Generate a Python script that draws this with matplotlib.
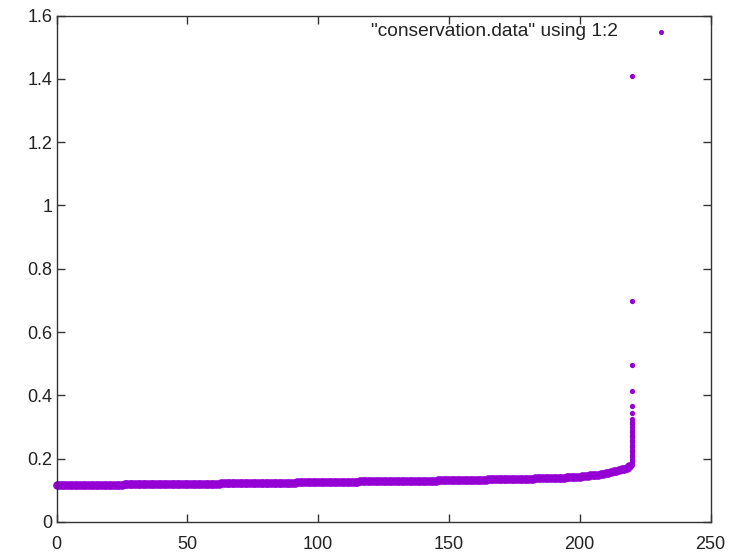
import matplotlib.pyplot as plt
plt.switch_backend('agg')

plt.rcParams['font.family'] = ['Liberation Sans', 'DejaVu Sans']

# sorted conservation scores, one per column-1 index
score_x = list(range(0, 220))
score_y = [
	0.117, 0.117, 0.117, 0.117, 0.117, 0.117, 0.117, 0.117, 0.117, 0.117,
	0.117, 0.117, 0.117, 0.118, 0.118, 0.118, 0.118, 0.118, 0.118, 0.118,
	0.118, 0.118, 0.118, 0.118, 0.118, 0.118, 0.119, 0.119, 0.119, 0.119,
	0.119, 0.119, 0.119, 0.119, 0.119, 0.119, 0.119, 0.119, 0.119, 0.119,
	0.119, 0.119, 0.119, 0.120, 0.120, 0.120, 0.120, 0.120, 0.120, 0.120,
	0.120, 0.120, 0.120, 0.120, 0.121, 0.121, 0.121, 0.121, 0.121, 0.121,
	0.121, 0.121, 0.121, 0.122, 0.122, 0.122, 0.122, 0.122, 0.122, 0.122,
	0.122, 0.122, 0.122, 0.123, 0.123, 0.123, 0.123, 0.123, 0.123, 0.123,
	0.123, 0.123, 0.124, 0.124, 0.124, 0.124, 0.124, 0.124, 0.124, 0.124,
	0.124, 0.124, 0.125, 0.125, 0.125, 0.125, 0.125, 0.125, 0.125, 0.125,
	0.125, 0.125, 0.126, 0.126, 0.126, 0.126, 0.126, 0.126, 0.126, 0.127,
	0.127, 0.127, 0.127, 0.127, 0.127, 0.127, 0.128, 0.128, 0.128, 0.128,
	0.128, 0.128, 0.128, 0.128, 0.129, 0.129, 0.129, 0.129, 0.129, 0.129,
	0.129, 0.129, 0.130, 0.130, 0.130, 0.130, 0.130, 0.130, 0.130, 0.131,
	0.131, 0.131, 0.131, 0.131, 0.131, 0.131, 0.132, 0.132, 0.132, 0.132,
	0.132, 0.132, 0.132, 0.133, 0.133, 0.133, 0.133, 0.133, 0.133, 0.134,
	0.134, 0.134, 0.134, 0.134, 0.134, 0.135, 0.135, 0.135, 0.135, 0.135,
	0.135, 0.135, 0.136, 0.136, 0.136, 0.136, 0.136, 0.137, 0.137, 0.137,
	0.137, 0.137, 0.137, 0.138, 0.138, 0.138, 0.138, 0.139, 0.139, 0.139,
	0.139, 0.139, 0.140, 0.140, 0.140, 0.141, 0.141, 0.141, 0.142, 0.142,
	0.143, 0.144, 0.145, 0.146, 0.147, 0.148, 0.149, 0.150, 0.151, 0.152,
	0.154, 0.156, 0.158, 0.160, 0.162, 0.164, 0.166, 0.169, 0.172, 0.178,
]

# the last index carries the high-scoring tail
tail_x = 220
tail_y = [
	0.180, 0.188, 0.196, 0.204, 0.212, 0.220, 0.228, 0.236, 0.244, 0.252,
	0.260, 0.268, 0.276, 0.284, 0.292, 0.300, 0.308, 0.316, 0.324, 0.344,
	0.368, 0.415, 0.497, 0.697, 1.408,
]

x_ticks = [0, 50, 100, 150, 200, 250]
y_ticks = [0, 0.2, 0.4, 0.6, 0.8, 1.0, 1.2, 1.4, 1.6]
y_labels = ['0', '0.2', '0.4', '0.6', '0.8', '1', '1.2', '1.4', '1.6']

color = '#9400d3'

fig = plt.figure(figsize=(7.3, 5.56), dpi=100)
ax = fig.add_axes([56.5 / 730, 34 / 556, 654 / 730, 506.5 / 556])

# dense bulk of the scores drawn as one thick run of overlapping dots
ax.plot(score_x, score_y, linestyle='none', marker='o', markersize=6.2,
	markeredgewidth=0, color=color, clip_on=False)
ax.plot([tail_x] * len(tail_y), tail_y, linestyle='none', marker='o',
	markersize=3.8, markeredgewidth=0, color=color, clip_on=False)

ax.set_xlim(0, 250)
ax.set_ylim(0, 1.6)
ax.set_xticks(x_ticks)
ax.set_yticks(y_ticks)
ax.set_yticklabels(y_labels)
ax.tick_params(direction='in', length=6, width=1, top=True, right=True,
	labelsize=13, labelcolor='#222222', color='#333333')
ax.tick_params(axis='x', pad=10)
ax.tick_params(axis='y', pad=3)
for s in ax.spines.values():
	s.set_linewidth(1)
	s.set_color('#333333')

# gnuplot-style key in the top right corner
fig.text(618 / 730, 1 - 32 / 556, '"conservation.data" using 1:2',
	ha='right', va='center', fontsize=13.8, color='#222222')
ax.plot([661 / 730], [1 - 32 / 556], transform=fig.transFigure,
	marker='o', markersize=3.7, markeredgewidth=0, color=color, clip_on=False)

plt.savefig('out.png', dpi=100)
